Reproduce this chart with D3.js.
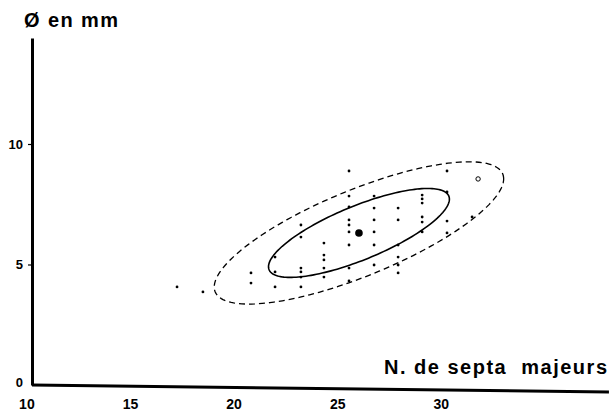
<!DOCTYPE html>
<html>
<head>
<meta charset="utf-8">
<script src="https://cdn.jsdelivr.net/npm/d3@7"></script>
<style>
  body { margin: 0; background: #fff; }
  svg { display: block; font-family: "Liberation Sans", Arial, sans-serif; }
</style>
</head>
<body>
<script>
// Chart size (same as the window)
var svgWidth = 609;
var svgHeight = 415;

// Tick labels
var xTicks = [10, 15, 20, 25, 30];
var yTicks = [0, 5, 10];

// Specimens: number of major septa, diameter in mm
var septa = [17.27, 18.52, 20.84, 20.84, 22.0, 22.0, 22.0,
  23.25, 23.25, 23.25, 23.25, 23.25, 23.25,
  24.36, 24.36, 24.36, 24.36, 24.36,
  25.57, 25.57, 25.57, 25.57, 25.57, 25.57, 25.57, 25.57, 25.57,
  26.78, 26.78, 26.78, 26.78, 26.78, 26.78,
  27.94, 27.94, 27.94, 27.94, 27.94, 27.94,
  29.10, 29.10, 29.10, 29.10, 29.10, 29.10,
  30.30, 30.30, 30.30, 30.30, 31.51];
var diameter = [4.07, 3.86, 4.65, 4.23, 5.31, 4.69, 4.07,
  6.64, 6.14, 4.85, 4.69, 4.48, 4.07,
  5.89, 5.39, 5.19, 4.85, 4.48,
  8.88, 7.84, 7.39, 6.85, 6.64, 6.35, 5.81, 4.85, 4.32,
  7.84, 7.34, 6.85, 6.35, 5.81, 4.98,
  7.34, 6.85, 5.81, 5.31, 4.98, 4.65,
  7.88, 7.72, 7.55, 6.97, 6.76, 6.35,
  8.88, 8.01, 6.80, 6.31, 6.97];

// One odd specimen drawn as an open ring
var ringPoint = [31.80, 8.55];

// Mean and dispersion used for the two ellipses
var meanPoint = [26.05, 6.31];
var sdSepta = 2.91;
var sdDiameter = 1.23;
var correlation = 0.76;
var ellipseLevels = [1.5, 2.4];   // inner (solid), outer (dashed)

var svg = d3.select("body")
  .append("svg")
  .attr("width", svgWidth)
  .attr("height", svgHeight);

svg.append("rect")
  .attr("width", svgWidth)
  .attr("height", svgHeight)
  .attr("fill", "#fff");

// Scales
var x = d3.scaleLinear()
  .domain([10, 38])
  .range([26.4, 26.4 + 28 * 20.72]);

var y = d3.scaleLinear()
  .domain([0, 14.4])
  .range([385, 385 - 14.4 * 24.1]);

var axisX = 32;   // where the vertical axis stands

// Vertical axis
var leftAxis = d3.axisLeft(y)
  .tickValues(yTicks)
  .tickSize(4)
  .tickSizeOuter(0)
  .tickPadding(3)
  .tickFormat(d3.format("d"));

var yAxisG = svg.append("g")
  .attr("transform", `translate(${axisX},0)`)
  .call(leftAxis);

yAxisG.select(".domain")
  .attr("stroke", "#000")
  .attr("stroke-width", 3);

yAxisG.selectAll(".tick line")
  .attr("stroke-width", 1.2)
  .attr("display", d => d === 0 ? "none" : null);

yAxisG.selectAll(".tick text")
  .attr("font-size", 13)
  .attr("font-weight", "bold")
  .attr("font-family", "Liberation Sans, Arial, sans-serif")
  .attr("fill", "#000")
  .attr("x", -9)
  .attr("dy", d => d === 0 ? "0.1em" : "0.32em");

// Horizontal axis (the line is a touch slanted in the original print)
var bottomAxis = d3.axisBottom(x)
  .tickValues(xTicks)
  .tickSize(0)
  .tickSizeOuter(0)
  .tickPadding(14)
  .tickFormat(d3.format("d"));

var xAxisG = svg.append("g")
  .attr("transform", `translate(0,${y(0)})`)
  .call(bottomAxis);

xAxisG.select(".domain")
  .attr("d", `M${axisX},0H${svgWidth}`)
  .attr("stroke", "#000")
  .attr("stroke-width", 3)
  .attr("transform", `rotate(0.7,${axisX},0)`);

xAxisG.selectAll(".tick text")
  .attr("font-size", 14)
  .attr("font-weight", "bold")
  .attr("font-family", "Liberation Sans, Arial, sans-serif")
  .attr("fill", "#000");

// Axis titles
svg.append("text")
  .attr("x", 24)
  .attr("y", 27)
  .attr("font-size", 20)
  .attr("font-weight", "bold")
  .attr("textLength", 94)
  .attr("lengthAdjust", "spacing")
  .text("Ø en mm");

svg.append("text")
  .attr("x", 384)
  .attr("y", 374)
  .attr("font-size", 20)
  .attr("font-weight", "bold")
  .attr("textLength", 223)
  .attr("lengthAdjust", "spacing")
  .attr("xml:space", "preserve")
  .style("white-space", "pre")
  .text("N. de septa  majeurs");

// Ellipses built from mean, spreads and correlation
function ellipsePoints(k) {
  return d3.range(0, 2 * Math.PI, Math.PI / 90).map(t => [
    meanPoint[0] + k * sdSepta * Math.cos(t),
    meanPoint[1] + k * sdDiameter * (correlation * Math.cos(t) +
      Math.sqrt(1 - correlation * correlation) * Math.sin(t))
  ]);
}

var drawEllipse = d3.line()
  .x(d => x(d[0]))
  .y(d => y(d[1]))
  .curve(d3.curveLinearClosed);

svg.append("path")
  .attr("d", drawEllipse(ellipsePoints(ellipseLevels[1])))
  .attr("fill", "none")
  .attr("stroke", "#000")
  .attr("stroke-width", 1.3)
  .attr("stroke-dasharray", "6,4");

svg.append("path")
  .attr("d", drawEllipse(ellipsePoints(ellipseLevels[0])))
  .attr("fill", "none")
  .attr("stroke", "#000")
  .attr("stroke-width", 1.6);

// Specimens
svg.append("g")
  .selectAll("circle")
  .data(septa.map((s, i) => [s, diameter[i]]))
  .join("circle")
  .attr("cx", d => x(d[0]))
  .attr("cy", d => y(d[1]))
  .attr("r", 1.4)
  .attr("fill", "#000");

svg.append("circle")
  .attr("cx", x(ringPoint[0]))
  .attr("cy", y(ringPoint[1]))
  .attr("r", 2.2)
  .attr("fill", "none")
  .attr("stroke", "#000")
  .attr("stroke-width", 1);

// Mean
svg.append("circle")
  .attr("cx", x(meanPoint[0]))
  .attr("cy", y(meanPoint[1]))
  .attr("r", 3.8)
  .attr("fill", "#000");
</script>
</body>
</html>
